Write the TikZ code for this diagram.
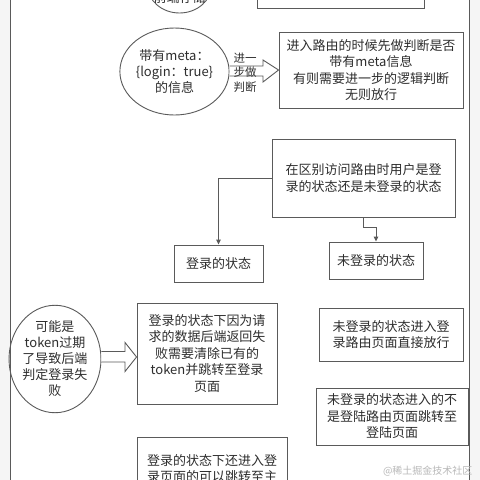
\documentclass[tikz,border=0pt]{standalone}
\usepackage{fontspec}
\setmainfont{Noto Sans CJK SC}
\usetikzlibrary{shapes.geometric,arrows.meta}
\definecolor{ln}{HTML}{5A5A5A}
\definecolor{tx}{HTML}{2E2E2E}
\tikzset{
  boxn/.style={draw=ln,line width=0.9pt,rectangle,inner sep=0pt,text=tx,align=center,font=\fontsize{13}{16.5}\selectfont},
  elln/.style={draw=ln,line width=0.9pt,ellipse,inner sep=0pt,text=tx,align=center,font=\fontsize{13}{16}\selectfont},
  arr/.style={draw=ln,line width=0.9pt,-{Triangle[length=5pt,width=4.5pt]}},
  hollow/.style={draw=ln,line width=0.9pt,fill=white,line join=miter},
}
\begin{document}
\begin{tikzpicture}[x=1pt,y=-1pt]
\useasboundingbox (0,0) rectangle (480,480);
\clip (0,0) rectangle (480,480);
\fill[white] (0,0) rectangle (480,480);
\fill[black!4] (0,0) rectangle (10,480);
\fill[black!4] (469,0) rectangle (480,480);
\draw[ln,line width=1pt] (10,0) -- (10,480);
\draw[ln,line width=1pt] (469,0) -- (469,480);

% top partial shapes
\node[elln,minimum width=64,minimum height=56] (e0) at (179.5,-15) {};
\node[text=tx,font=\fontsize{13}{16}\selectfont] (e0t) at (179.5,-2) {前端存储};
\node[boxn,minimum width=167,minimum height=40] (r0) at (340.5,-12) {};

% meta ellipse and box
\node[elln,minimum width=95,minimum height=87] (c1) at (174.5,71.5) {带有meta：\\\{login：true\}\\的信息};
\node[boxn,minimum width=184,minimum height=76] (b1) at (371,70) {进入路由的时候先做判断是否\\带有meta信息\\有则需要进一步的逻辑判断\\无则放行};
\draw[hollow] (c1.east |- 0,66) -- (263,66) -- (263,60) -- (b1.west) -- (263,82) -- (263,76) -- (c1.east |- 0,76);
\node[text=tx,align=center,font=\fontsize{11.5}{14.5}\selectfont] (l1) at (245,72.5) {进一\\步做\\判断};

% login state split
\node[boxn,minimum width=183,minimum height=78] (b2) at (363.5,178) {在区别访问路由时用户是登\\录的状态还是未登录的状态};
\node[boxn,minimum width=89,minimum height=37] (b3) at (218.5,263.5) {登录的状态};
\node[boxn,minimum width=94,minimum height=37] (b4) at (376,260.5) {未登录的状态};
\draw[arr] (b2.west) -| (b3.north);
\draw[arr] (b2.south) -- ++(0,10) -| (b4.north);

% token failure
\node[elln,minimum width=80,minimum height=88] (c2) at (55,359) {可能是\\token过期\\了导致后端\\判定登录失\\败};
\node[boxn,minimum width=140,minimum height=101] (b5) at (207,353.5) {登录的状态下因为请\\求的数据后端返回失\\败需要清除已有的\\token并跳转至登录\\页面};
\draw[hollow] (c2.east |- 0,351.5) -- (125,351.5) -- (125,342.5) -- (b5.west |- 0,357) -- (125,371.5) -- (125,362) -- (c2.east |- 0,362);

\node[boxn,minimum width=144,minimum height=53] (b6) at (391,334.5) {未登录的状态进入登\\录路由页面直接放行};
\node[boxn,minimum width=152,minimum height=57] (b7) at (392,416.5) {未登录的状态进入的不\\是登陆路由页面跳转至\\登陆页面};
\node[boxn,minimum width=150,minimum height=80] (b8) at (212,477) {登录的状态下还进入登\\录页面的可以跳转至主\\页};

\node[text=black!28,font=\fontsize{10}{12}\selectfont,anchor=east] (wm) at (476,471) {@稀土掘金技术社区};
\end{tikzpicture}
\end{document}
